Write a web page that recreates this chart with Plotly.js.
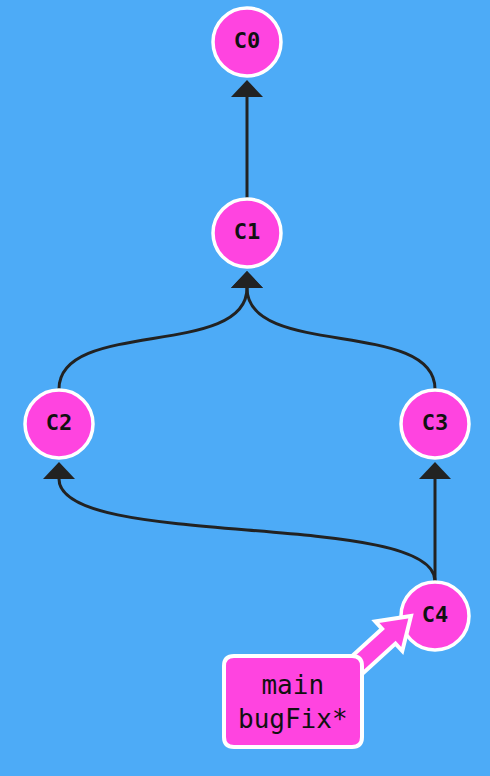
<!DOCTYPE html>
<html>
<head>
<meta charset="utf-8">
<script src="https://cdn.plot.ly/plotly-3.0.1.min.js"></script>
<style>html,body{margin:0;padding:0;background:#4DABF7}#g{width:490px;height:776px}</style>
</head>
<body>
<div id="g"></div>
<script>
// commits and their positions on the page (pixel grid)
const commits = ['C0', 'C1', 'C2', 'C3', 'C4'];
const commitX = [247, 247, 59, 435, 435];
const commitY = [42, 233, 424, 424, 616];
// parent links: child -> parent
const edgeFrom = ['C1', 'C2', 'C3', 'C4', 'C4'];
const edgeTo   = ['C0', 'C1', 'C1', 'C3', 'C2'];
const branchLabels = ['main', 'bugFix*'];
const branchHead = 'C4';

const BG = '#4DABF7', PINK = '#FF44E0', DARK = '#222222';
const R = 35;

const pos = name => { const i = commits.indexOf(name); return [commitX[i], commitY[i]]; };
const shapes = [];

edgeFrom.forEach((f, k) => {
    const [x1, y1] = pos(f);
    const [x2, y2] = pos(edgeTo[k]);
    const startY = y1 - R;
    const tipY = y2 + R + 3;
    const baseY = tipY + 17;
    let d;
    if (x1 === x2) {
        d = `M${x1},${startY} L${x2},${baseY}`;
    } else {
        const mid = (startY + baseY) / 2;
        d = `M${x1},${startY} C${x1},${mid - 20} ${x2},${mid + 20} ${x2},${baseY}`;
    }
    shapes.push({ type: 'path', path: d, line: { color: DARK, width: 3 }, layer: 'below' });
    shapes.push({ type: 'path', path: `M${x2},${tipY} L${x2 - 16},${baseY} L${x2 + 16},${baseY} Z`,
        fillcolor: DARK, line: { width: 0 }, layer: 'below' });
});

// branch label box and pointer arrow
const [hx, hy] = pos(branchHead);
const bx0 = 224, bx1 = 362, by0 = 656, by1 = 747, rr = 10;
const start = [345, 676];
const tip = [hx - R + 11, hy];
const dx = tip[0] - start[0], dy = tip[1] - start[1];
const L = Math.hypot(dx, dy);
const u = [dx / L, dy / L], n = [-u[1], u[0]];
const base = [tip[0] - 30 * u[0], tip[1] - 30 * u[1]];
const p = (c, s) => `${(c[0] + s * n[0]).toFixed(1)},${(c[1] + s * n[1]).toFixed(1)}`;
const arrowPath = `M${p(start, 10)} L${p(base, 10)} L${p(base, 20)} L${tip[0]},${tip[1]} L${p(base, -20)} L${p(base, -10)} L${p(start, -10)} Z`;
shapes.push({ type: 'path', path: arrowPath, fillcolor: PINK, line: { color: 'white', width: 4 } });
shapes.push({ type: 'path',
    path: `M${bx0 + rr},${by0} L${bx1 - rr},${by0} Q${bx1},${by0} ${bx1},${by0 + rr} L${bx1},${by1 - rr} Q${bx1},${by1} ${bx1 - rr},${by1} L${bx0 + rr},${by1} Q${bx0},${by1} ${bx0},${by1 - rr} L${bx0},${by0 + rr} Q${bx0},${by0} ${bx0 + rr},${by0} Z`,
    fillcolor: PINK, line: { color: 'white', width: 4 } });

const data = [{
    x: commitX, y: commitY, mode: 'markers+text', type: 'scatter',
    text: commits.map(c => '<b>' + c + '</b>'),
    textposition: 'middle center',
    textfont: { family: 'DejaVu Sans Mono', size: 22, color: '#111' },
    marker: { size: 2 * R - 2, color: PINK, line: { color: 'white', width: 3.5 } },
    hoverinfo: 'none'
}];

const layout = {
    width: 490, height: 776,
    margin: { l: 0, r: 0, t: 0, b: 0 },
    paper_bgcolor: BG, plot_bgcolor: BG,
    xaxis: { range: [0, 490], visible: false, fixedrange: true },
    yaxis: { range: [776, 0], visible: false, fixedrange: true },
    showlegend: false,
    shapes: shapes,
    annotations: [{
        x: (bx0 + bx1) / 2, y: (by0 + by1) / 2, xref: 'x', yref: 'y', showarrow: false,
        text: branchLabels.join('<br>'),
        font: { family: 'DejaVu Sans Mono', size: 26, color: '#111' }
    }]
};

Plotly.newPlot('g', data, layout, { staticPlot: true });
</script>
</body>
</html>
